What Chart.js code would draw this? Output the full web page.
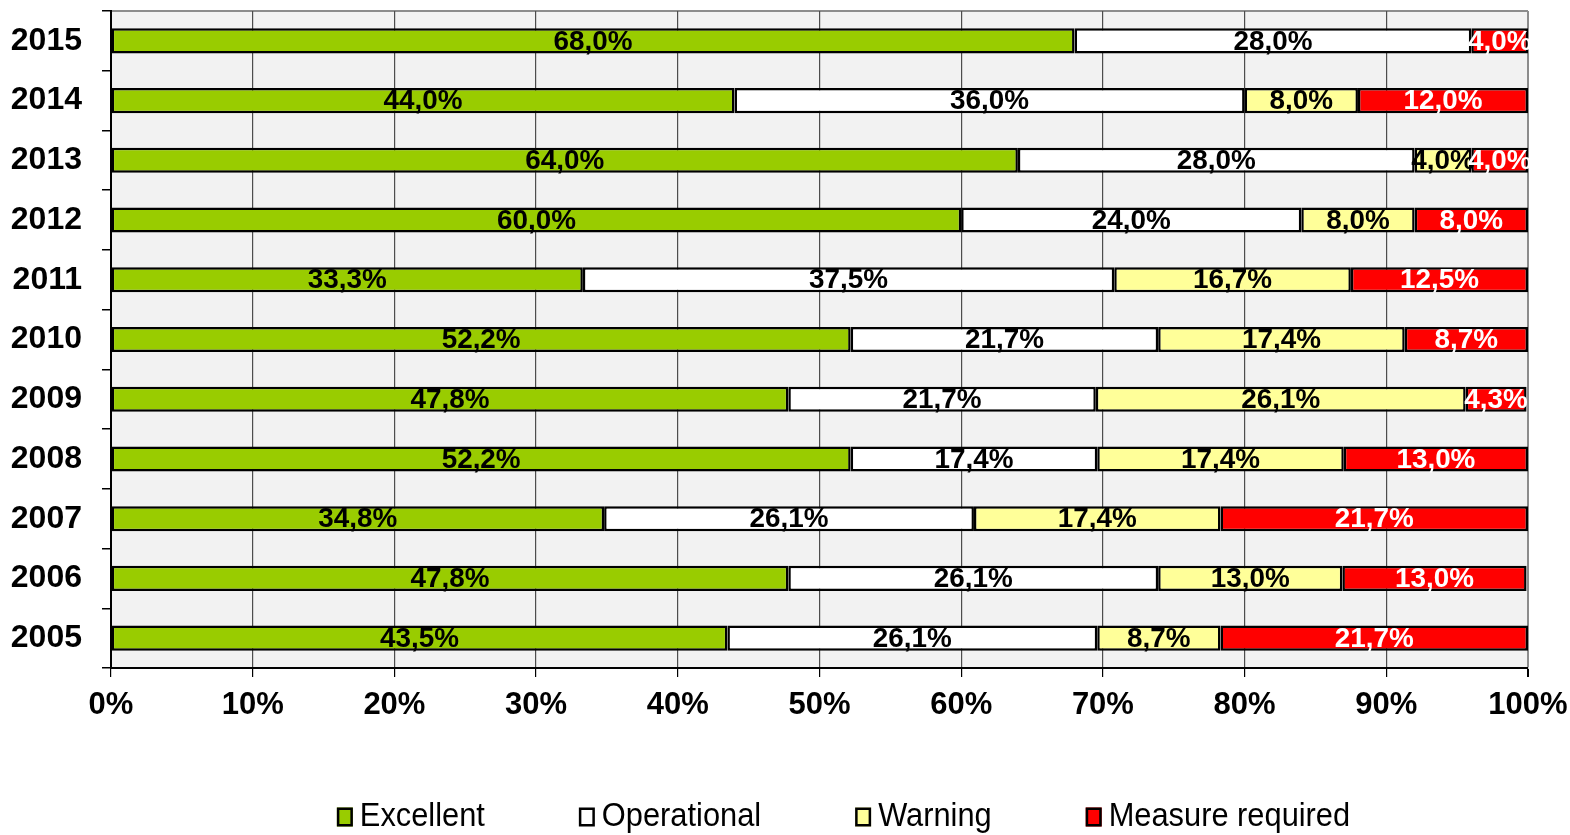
<!DOCTYPE html>
<html>
<head>
<meta charset="utf-8">
<script src="https://cdn.jsdelivr.net/npm/chart.js@4"></script>
<style>
html,body{margin:0;padding:0;background:#fff;}
canvas{display:block;}
</style>
</head>
<body>
<canvas id="c" width="1570" height="835"></canvas>
<script>
const years = ['2015','2014','2013','2012','2011','2010','2009','2008','2007','2006','2005'];
const excellent   = [68.0, 44.0, 64.0, 60.0, 33.3, 52.2, 47.8, 52.2, 34.8, 47.8, 43.5];
const operational = [28.0, 36.0, 28.0, 24.0, 37.5, 21.7, 21.7, 17.4, 26.1, 26.1, 26.1];
const warning     = [0,    8.0,  4.0,  8.0,  16.7, 17.4, 26.1, 17.4, 17.4, 13.0, 8.7];
const measure     = [4.0,  12.0, 4.0,  8.0,  12.5, 8.7,  4.3,  13.0, 21.7, 13.0, 21.7];
const seriesNames = ['Excellent','Operational','Warning','Measure required'];
const seriesColors = ['#99CC00','#FFFFFF','#FFFF99','#FF0000'];
const labelColors = ['#000000','#000000','#000000','#FFFFFF'];
const xTicks = [0,10,20,30,40,50,60,70,80,90,100];

const FONT = "'Liberation Sans', Arial, sans-serif";

const bgPlugin = {
  id: 'bg',
  beforeDraw(chart) {
    const {ctx, chartArea: a} = chart;
    ctx.save();
    ctx.fillStyle = '#F2F2F2';
    ctx.fillRect(a.left, a.top, a.right - a.left, a.bottom - a.top);
    ctx.strokeStyle = '#8C8C8C';
    ctx.lineWidth = 2;
    ctx.beginPath();
    ctx.moveTo(a.left, a.top);
    ctx.lineTo(a.right, a.top);
    ctx.stroke();
    ctx.restore();
  }
};

const labelPlugin = {
  id: 'vals',
  afterDatasetsDraw(chart) {
    const {ctx, chartArea: a} = chart;
    ctx.save();
    ctx.beginPath();
    ctx.rect(a.left, a.top - 20, a.right - a.left + 2, a.bottom - a.top + 40);
    ctx.clip();
    ctx.font = "bold 28px " + FONT;
    ctx.textAlign = 'center';
    ctx.textBaseline = 'middle';
    const sx = 79 / ctx.measureText('68,0%').width;
    chart.data.datasets.forEach((ds, di) => {
      const meta = chart.getDatasetMeta(di);
      meta.data.forEach((el, i) => {
        const v = ds.data[i];
        if (!v) return;
        const p = el.getProps(['x','y','base'], true);
        ctx.save();
        ctx.translate((p.x + p.base) / 2, p.y + 1);
        ctx.scale(sx, 1);
        ctx.fillStyle = labelColors[di];
        ctx.fillText(v.toFixed(1).replace('.', ',') + '%', 0, 0);
        ctx.restore();
      });
    });
    ctx.restore();
  }
};

const legendPlugin = {
  id: 'customLegend',
  afterDraw(chart) {
    const ctx = chart.ctx;
    ctx.save();
    ctx.font = "33px " + FONT;
    const sx = 125 / ctx.measureText('Excellent').width;
    const boxW = 16, boxH = 19, gapText = 7, gapItem = 94;
    const widths = seriesNames.map(n => boxW + gapText + ctx.measureText(n).width * sx);
    const total = widths.reduce((s, w) => s + w, 0) + gapItem * (widths.length - 1);
    let x = 843.5 - total / 2;
    const cy = 817;
    seriesNames.forEach((n, i) => {
      ctx.fillStyle = seriesColors[i];
      ctx.fillRect(x, cy - boxH / 2, boxW, boxH);
      ctx.strokeStyle = '#000';
      ctx.lineWidth = 2.5;
      ctx.strokeRect(x + 1.25, cy - boxH / 2 + 1.25, boxW - 2.5, boxH - 2.5);
      ctx.fillStyle = '#000';
      ctx.textAlign = 'left';
      ctx.textBaseline = 'middle';
      ctx.save();
      ctx.translate(x + boxW + gapText, cy);
      ctx.scale(sx, 1);
      ctx.fillText(n, 0, 0);
      ctx.restore();
      x += widths[i] + gapItem;
    });
    ctx.restore();
  }
};

const datasets = [excellent, operational, warning, measure].map((d, i) => ({
  label: seriesNames[i],
  data: d,
  backgroundColor: seriesColors[i],
  borderColor: '#000000',
  borderWidth: 2.5,
  borderSkipped: false,
  barPercentage: 0.42,
  categoryPercentage: 1.0
}));

new Chart(document.getElementById('c'), {
  type: 'bar',
  data: { labels: years, datasets },
  options: {
    responsive: false,
    animation: false,
    indexAxis: 'y',
    layout: { padding: { top: 11, right: 42, left: 0, bottom: 95 } },
    plugins: {
      legend: { display: false },
      tooltip: { enabled: false }
    },
    scales: {
      x: {
        stacked: true,
        min: 0,
        max: 100,
        afterBuildTicks(scale) { scale.ticks = xTicks.map(v => ({ value: v })); },
        afterFit(scale) { scale.height = 72; scale.paddingLeft = 0; scale.paddingRight = 0; },
        ticks: {
          callback: v => v + '%',
          font: { family: FONT, size: 31, weight: 'bold' },
          color: '#000',
          padding: 10,
          maxRotation: 0,
          autoSkip: false
        },
        grid: {
          color: ctx => (ctx.tick && ctx.tick.value === 100) ? '#8C8C8C' : '#4D4D4D',
          lineWidth: ctx => (ctx.tick && ctx.tick.value === 100) ? 2 : 1.2,
          tickColor: '#000',
          tickLength: 9,
          drawTicks: true
        },
        border: { color: '#000', width: 2 }
      },
      y: {
        stacked: true,
        afterFit(scale) { scale.width = 111; scale.paddingTop = 0; scale.paddingBottom = 0; },
        ticks: {
          font: { family: FONT, size: 32, weight: 'bold' },
          color: '#000',
          padding: 20
        },
        grid: {
          offset: true,
          drawOnChartArea: false,
          tickLength: 9,
          tickColor: '#000',
          lineWidth: 1.5
        },
        border: { color: '#000', width: 2 }
      }
    }
  },
  plugins: [bgPlugin, labelPlugin, legendPlugin]
});
</script>
</body>
</html>
